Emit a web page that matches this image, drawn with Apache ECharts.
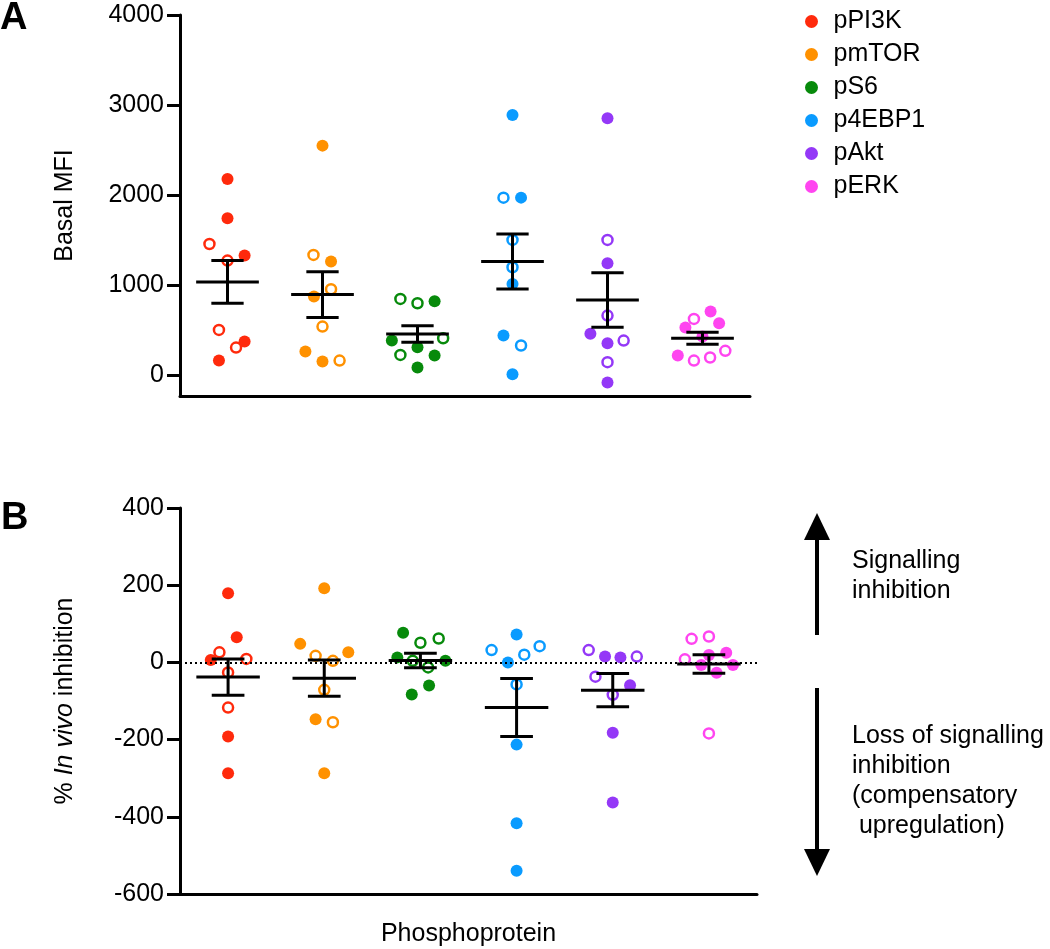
<!DOCTYPE html>
<html>
<head>
<meta charset="utf-8">
<script src="https://cdn.jsdelivr.net/npm/echarts@6/dist/echarts.min.js"></script>
<style>
  html, body { margin: 0; padding: 0; background: #fff; }
  #chart { width: 1050px; height: 949px; }
</style>
</head>
<body>
<div id="chart"></div>
<script>
const categories = ['pPI3K', 'pmTOR', 'pS6', 'p4EBP1', 'pAkt', 'pERK'];
const colors = ['#FF2A0C', '#FF9100', '#078A0B', '#0A9BFF', '#9438F7', '#FF45F0'];

// Panel A: basal MFI (one row per phosphoprotein)
const basalValues = [
  [2178, 1741, 1455, 1270, 1326, 500, 370, 303, 159],
  [2548, 1333, 1259, 952, 870, 537, 259, 148, 159],
  [844, 796, 818, 381, 407, 307, 222, 215, 81],
  [2889, 1970, 1970, 1500, 1196, 1011, 437, 326, 7],
  [2852, 1500, 1241, 659, 456, 352, 381, 141, -85],
  [704, 622, 574, 526, 426, 215, 159, 193, 267]
];
const basalJitter = [
  [0, 0, -0.19, 0, 0.18, -0.09, 0.18, 0.09, -0.09],
  [0, -0.095, 0.09, 0.09, -0.09, 0, -0.18, 0, 0.18],
  [-0.18, 0, 0.18, -0.27, 0.27, 0, -0.18, 0.18, 0],
  [0, -0.095, 0.09, 0, 0, 0, -0.095, 0.09, 0],
  [0, 0, 0, 0, -0.18, 0, 0.17, 0, 0],
  [0.085, -0.09, 0.175, -0.18, 0, -0.26, -0.09, 0.08, 0.24]
];
const basalOpen = [
  [0, 0, 1, 1, 0, 1, 0, 1, 0],
  [0, 1, 0, 1, 0, 1, 0, 0, 1],
  [1, 1, 0, 0, 1, 0, 1, 0, 0],
  [0, 1, 0, 1, 1, 0, 0, 1, 0],
  [0, 1, 0, 1, 0, 0, 1, 1, 0],
  [0, 1, 0, 0, 0, 0, 1, 1, 1]
];
const basalMean = [1033, 892, 455, 1260, 833, 407];
const basalSem = [237, 255, 92, 307, 303, 66];

// Panel B: % in vivo inhibition
const inhibValues = [
  [179, 65, 26, 6, 9, -26, -117, -192, -287],
  [192, 48, 26, 17, 4, -71, -147, -155, -287],
  [77, 62, 51, 13, 4, 4, -13, -60, -83],
  [72, 32, 42, 20, 0, -57, -213, -417, -540],
  [32, 15, 13, 15, -37, -59, -84, -182, -363],
  [61, 67, 25, 19, 8, -7, -7, -27, -184]
];
const inhibJitter = [
  [0, 0.09, -0.09, -0.18, 0.19, 0, 0, 0, 0],
  [0, -0.25, 0.25, -0.09, 0.09, 0, -0.09, 0.09, 0],
  [-0.18, 0.19, 0, -0.24, 0.26, -0.08, 0.08, 0.09, -0.09],
  [0, -0.26, 0.24, 0.08, -0.09, 0, 0, 0, 0],
  [-0.25, -0.08, 0.08, 0.25, -0.18, 0.18, 0, 0, 0],
  [-0.18, 0, 0.18, 0, -0.25, -0.08, 0.25, 0.08, 0]
];
const inhibOpen = [
  [0, 0, 1, 0, 1, 1, 1, 0, 0],
  [0, 0, 0, 1, 1, 1, 0, 1, 0],
  [0, 1, 1, 0, 0, 1, 1, 0, 0],
  [0, 1, 1, 1, 0, 1, 0, 0, 0],
  [1, 0, 0, 1, 1, 0, 1, 0, 0],
  [1, 1, 0, 0, 1, 0, 0, 0, 1]
];
const inhibMean = [-38, -41, 5, -117, -72, -4];
const inhibSem = [47, 47, 19, 75, 43, 24];

const basalTicks = [0, 1000, 2000, 3000, 4000];

const FONT = "'Liberation Sans', Arial, Helvetica, sans-serif";

const chart = echarts.init(document.getElementById('chart'));

function pointSeries(values, jitter, open, axisIdx, wantOpen) {
  const series = [];
  categories.forEach((name, i) => {
    const pts = [];
    values[i].forEach((v, k) => {
      if (!!open[i][k] === wantOpen) pts.push([i + 0.5 + jitter[i][k], v]);
    });
    series.push({
      name: wantOpen ? name + ' open' : name,
      type: 'scatter',
      xAxisIndex: axisIdx,
      yAxisIndex: axisIdx,
      symbol: 'circle',
      symbolSize: wantOpen ? 10 : 12,
      itemStyle: wantOpen
        ? { color: '#fff', borderColor: colors[i], borderWidth: 2.5, opacity: 1 }
        : { color: colors[i], opacity: 1 },
      emphasis: { disabled: true },
      z: 2,
      data: pts
    });
  });
  return series;
}

function errorSeries(mean, sem, axisIdx) {
  return {
    type: 'custom',
    xAxisIndex: axisIdx,
    yAxisIndex: axisIdx,
    z: 5,
    silent: true,
    data: mean.map((m, i) => [i + 0.5, m, sem[i]]),
    renderItem: (params, api) => {
      const x = api.value(0);
      const m = api.value(1);
      const s = api.value(2);
      const style = { stroke: '#000', lineWidth: 3 };
      const seg = (a, b) => {
        const p1 = api.coord(a);
        const p2 = api.coord(b);
        return { type: 'line', shape: { x1: p1[0], y1: p1[1], x2: p2[0], y2: p2[1] }, style };
      };
      return {
        type: 'group',
        children: [
          seg([x - 0.33, m], [x + 0.33, m]),
          seg([x, m - s], [x, m + s]),
          seg([x - 0.17, m + s], [x + 0.17, m + s]),
          seg([x - 0.17, m - s], [x + 0.17, m - s])
        ]
      };
    }
  };
}

const axisLine = { show: true, onZero: false, lineStyle: { color: '#000', width: 3 } };
const labelStyle = { color: '#000', fontSize: 25, fontFamily: FONT };
const plainNumber = v => String(v);

const option = {
  animation: false,
  backgroundColor: '#fff',
  textStyle: { fontFamily: FONT },
  legend: {
    data: categories,
    orient: 'vertical',
    left: 800,
    top: 4,
    icon: 'circle',
    itemWidth: 34,
    itemHeight: 13,
    itemGap: 8,
    textStyle: { color: '#000', fontSize: 25, fontFamily: FONT },
    selectedMode: false
  },
  grid: [
    { left: 180, top: 15, width: 570, height: 381 },
    { left: 180, top: 508, width: 577, height: 386 }
  ],
  xAxis: [
    {
      gridIndex: 0, type: 'value', min: 0, max: 6,
      axisLine, axisTick: { show: false }, axisLabel: { show: false }, splitLine: { show: false }
    },
    {
      gridIndex: 1, type: 'value', min: 0, max: 6,
      name: 'Phosphoprotein', nameLocation: 'middle', nameGap: 28,
      nameTextStyle: labelStyle,
      axisLine, axisTick: { show: false }, axisLabel: { show: false }, splitLine: { show: false }
    }
  ],
  yAxis: [
    {
      gridIndex: 0, type: 'value', min: -235, max: 4000,
      name: 'Basal MFI', nameLocation: 'middle', nameGap: 102,
      nameTextStyle: labelStyle,
      axisLine,
      axisTick: { show: true, length: 13, lineStyle: { color: '#000', width: 3 }, customValues: basalTicks },
      axisLabel: Object.assign({ margin: 16, customValues: basalTicks, formatter: plainNumber }, labelStyle),
      splitLine: { show: false }
    },
    {
      gridIndex: 1, type: 'value', min: -600, max: 400, interval: 200,
      name: '% {i|In vivo} inhibition', nameLocation: 'middle', nameGap: 102,
      nameTextStyle: Object.assign({ rich: { i: { fontStyle: 'italic', fontSize: 25, fontFamily: FONT, color: '#000' } } }, labelStyle),
      axisLine,
      axisTick: { show: true, length: 13, lineStyle: { color: '#000', width: 3 } },
      axisLabel: Object.assign({ margin: 16, formatter: plainNumber }, labelStyle),
      splitLine: { show: false }
    }
  ],
  graphic: [
    { type: 'text', left: 0, top: 0, style: { text: 'A', fontSize: 38, fontWeight: 'bold', fontFamily: FONT, fill: '#000' } },
    { type: 'text', left: 1, top: 500, style: { text: 'B', fontSize: 38, fontWeight: 'bold', fontFamily: FONT, fill: '#000' } },
    // up arrow
    { type: 'line', shape: { x1: 817, y1: 535, x2: 817, y2: 635 }, style: { stroke: '#000', lineWidth: 4 } },
    { type: 'polygon', shape: { points: [[817, 513], [804, 540], [830, 540]] }, style: { fill: '#000' } },
    // down arrow
    { type: 'line', shape: { x1: 817, y1: 688, x2: 817, y2: 855 }, style: { stroke: '#000', lineWidth: 4 } },
    { type: 'polygon', shape: { points: [[817, 876], [804, 849], [830, 849]] }, style: { fill: '#000' } },
    {
      type: 'text', left: 852, top: 546,
      style: { text: 'Signalling\ninhibition', fontSize: 25, lineHeight: 30, fontFamily: FONT, fill: '#000' }
    },
    {
      type: 'text', left: 852, top: 721,
      style: { text: 'Loss of signalling\ninhibition\n(compensatory\n upregulation)', fontSize: 25, lineHeight: 30, fontFamily: FONT, fill: '#000' }
    }
  ],
  series: [
    ...pointSeries(basalValues, basalJitter, basalOpen, 0, false),
    ...pointSeries(basalValues, basalJitter, basalOpen, 0, true),
    errorSeries(basalMean, basalSem, 0),
    ...pointSeries(inhibValues, inhibJitter, inhibOpen, 1, false),
    ...pointSeries(inhibValues, inhibJitter, inhibOpen, 1, true),
    errorSeries(inhibMean, inhibSem, 1),
    {
      type: 'line',
      xAxisIndex: 1,
      yAxisIndex: 1,
      data: [],
      silent: true,
      markLine: {
        silent: true,
        symbol: 'none',
        label: { show: false },
        lineStyle: { color: '#000', width: 2, type: [2, 3] },
        data: [{ yAxis: 0 }]
      }
    }
  ]
};

chart.setOption(option);
window.addEventListener('resize', () => chart.resize());
</script>
</body>
</html>
